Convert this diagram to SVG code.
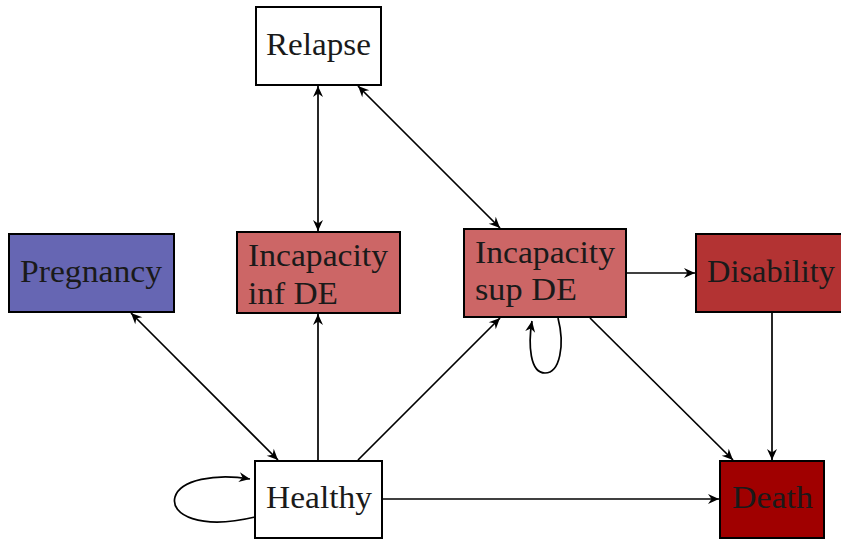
<svg xmlns="http://www.w3.org/2000/svg" width="841" height="540" viewBox="0 0 841 540">
  <style>
    .box { stroke: #000; stroke-width: 2; }
    .lbl { font-family: "Liberation Serif", "DejaVu Serif", serif; font-size: 32px; fill: #1a1a1a; }
    .edge { fill: none; stroke: #000; stroke-width: 1.7; }
  </style>
  <defs>
    <marker id="tip" viewBox="-12 -6 14 12" refX="0" refY="0" markerWidth="14" markerHeight="12" markerUnits="userSpaceOnUse" orient="auto-start-reverse">
      <path d="M0,0 L-11,-5 L-7.5,0 L-11,5 z" fill="#000"/>
    </marker>
  </defs>
  <rect width="841" height="540" fill="#fff"/>

  <g id="connectors">
    <line class="edge" x1="318" y1="86" x2="318" y2="231" marker-start="url(#tip)" marker-end="url(#tip)"/>
    <line class="edge" x1="358" y1="86" x2="500" y2="228" marker-start="url(#tip)" marker-end="url(#tip)"/>
    <line class="edge" x1="131" y1="313" x2="278" y2="460" marker-start="url(#tip)" marker-end="url(#tip)"/>
    <line class="edge" x1="318" y1="460" x2="318" y2="314" marker-end="url(#tip)"/>
    <line class="edge" x1="358" y1="460" x2="500" y2="318" marker-end="url(#tip)"/>
    <line class="edge" x1="383" y1="499" x2="719" y2="499" marker-end="url(#tip)"/>
    <line class="edge" x1="627" y1="273" x2="695" y2="273" marker-end="url(#tip)"/>
    <line class="edge" x1="590" y1="318" x2="733" y2="460" marker-end="url(#tip)"/>
    <line class="edge" x1="772" y1="313" x2="772" y2="460" marker-end="url(#tip)"/>
    <path class="edge" d="M255,517 C200,530 170,515 175,497 C180,480 215,473 250,479" marker-end="url(#tip)"/>
    <path class="edge" d="M558,318 C565,345 560,373 545,373 C530,373 528,345 532,321" marker-end="url(#tip)"/>
  </g>

  <g id="relapse">
    <rect class="box" x="256" y="7" width="125" height="78" fill="#fff"/>
    <text class="lbl" x="266" y="55" textLength="105" lengthAdjust="spacingAndGlyphs">Relapse</text>
  </g>
  <g id="pregnancy">
    <rect class="box" x="9" y="234" width="165" height="78" fill="#6666B3"/>
    <text class="lbl" x="20" y="282" textLength="142" lengthAdjust="spacingAndGlyphs">Pregnancy</text>
  </g>
  <g id="incapacity-inf">
    <rect class="box" x="237" y="232" width="163" height="81" fill="#CC6666"/>
    <text class="lbl" x="248" y="266" textLength="140" lengthAdjust="spacingAndGlyphs">Incapacity</text>
    <text class="lbl" x="248" y="304" textLength="90" lengthAdjust="spacingAndGlyphs">inf DE</text>
  </g>
  <g id="incapacity-sup">
    <rect class="box" x="464" y="229" width="162" height="88" fill="#CC6666"/>
    <text class="lbl" x="475" y="263" textLength="140" lengthAdjust="spacingAndGlyphs">Incapacity</text>
    <text class="lbl" x="475" y="300" textLength="102" lengthAdjust="spacingAndGlyphs">sup DE</text>
  </g>
  <g id="disability">
    <rect class="box" x="696" y="234" width="150" height="78" fill="#B33333"/>
    <text class="lbl" x="707" y="282" textLength="128" lengthAdjust="spacingAndGlyphs">Disability</text>
  </g>
  <g id="healthy">
    <rect class="box" x="255" y="461" width="127" height="77" fill="#fff"/>
    <text class="lbl" x="266" y="508" textLength="106" lengthAdjust="spacingAndGlyphs">Healthy</text>
  </g>
  <g id="death">
    <rect class="box" x="720" y="461" width="104" height="77" fill="#A00000"/>
    <text class="lbl" x="732" y="508" textLength="81" lengthAdjust="spacingAndGlyphs">Death</text>
  </g>
</svg>
